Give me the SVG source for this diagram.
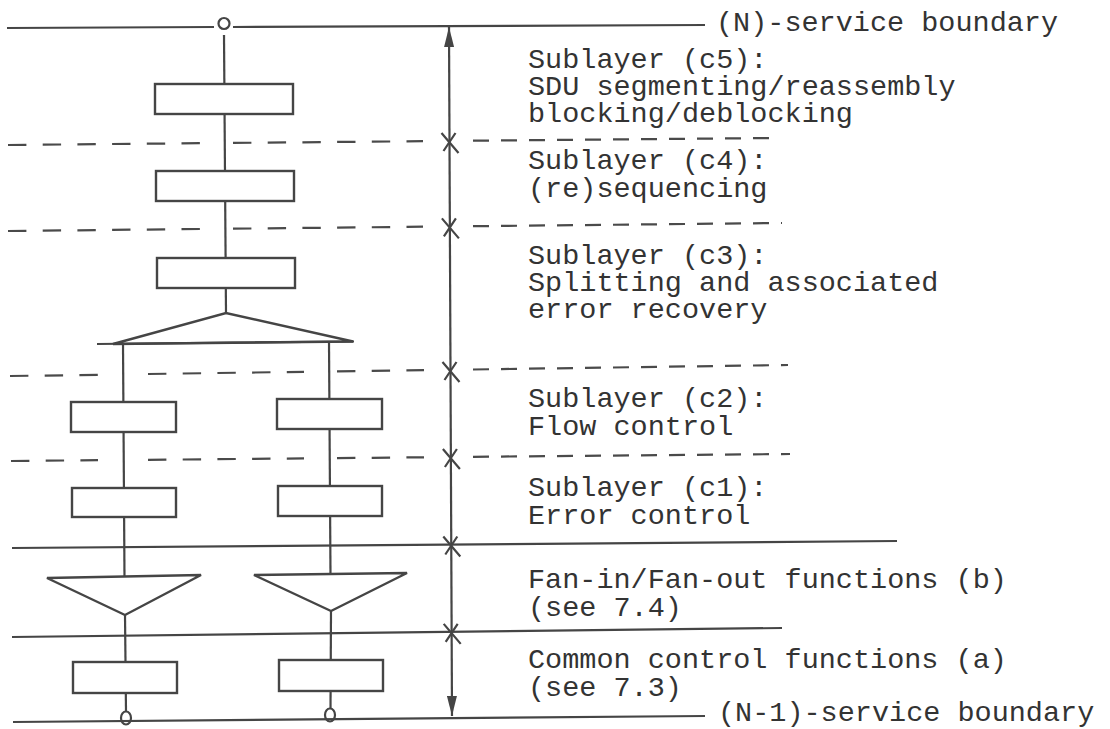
<svg xmlns="http://www.w3.org/2000/svg" width="1110" height="729" viewBox="0 0 1110 729">
  <defs>
    <style>
      .ln { stroke: #454545; stroke-width: 2.2; fill: none; stroke-linecap: butt; }
      .box { stroke: #454545; stroke-width: 2.4; fill: #ffffff; }
      .fan { stroke: #454545; stroke-width: 2.4; fill: #ffffff; stroke-linejoin: miter; }
      .dl { stroke: #4a4a4a; stroke-width: 2.2; fill: none; stroke-dasharray: 18.4 16.3; }
      .dr { stroke: #4a4a4a; stroke-width: 2.2; fill: none; stroke-dasharray: 16 12; }
      .txt { font-family: "Liberation Mono", "DejaVu Sans Mono", monospace; font-size: 28.5px; fill: #333333; }
    </style>
    <!-- tick mark where a sublayer boundary crosses the extent arrow -->
    <path id="tick" d="M-8,-8 L9,12 M6,-8 L-6,10" stroke="#454545" stroke-width="2.2" fill="none"/>
    <marker id="head" viewBox="0 0 20 10" refX="20" refY="5" markerWidth="20" markerHeight="10" markerUnits="userSpaceOnUse" orient="auto-start-reverse">
      <path d="M0,0 L20,5 L0,10 Z" fill="#454545"/>
    </marker>
  </defs>

  <rect width="1110" height="729" fill="#ffffff"/>

  <!-- service boundaries and sublayer separators -->
  <g id="boundaries">
    <line class="ln" x1="7" y1="28" x2="214" y2="27"/>
    <line class="ln" x1="233" y1="27" x2="705" y2="25"/>
    <ellipse cx="224" cy="23.5" rx="5.5" ry="5.5" class="ln"/>

    <!-- c5 / c4 -->
    <line class="dl" x1="8" y1="145" x2="200" y2="143.2"/>
    <line class="dl" x1="233" y1="142.9" x2="423" y2="141.2"/>
    <line class="dr" x1="473" y1="140.7" x2="773" y2="138"/>
    <!-- c4 / c3 -->
    <line class="dl" x1="8" y1="231" x2="200" y2="229"/>
    <line class="dl" x1="233" y1="228.7" x2="423" y2="226.7"/>
    <line class="dr" x1="473" y1="226.2" x2="782" y2="223"/>
    <!-- c3 / c2 -->
    <line class="dl" x1="10" y1="376" x2="98" y2="374.8"/>
    <line class="dl" x1="148" y1="374" x2="304" y2="371.8"/>
    <line class="dl" x1="337" y1="371.4" x2="424" y2="370.1"/>
    <line class="dr" x1="473" y1="369.5" x2="788" y2="365"/>
    <!-- c2 / c1 -->
    <line class="dl" x1="11" y1="461" x2="98" y2="460.2"/>
    <line class="dl" x1="148" y1="459.8" x2="304" y2="458.4"/>
    <line class="dl" x1="337" y1="458.1" x2="424" y2="457.3"/>
    <line class="dr" x1="473" y1="456.8" x2="790" y2="454"/>
    <!-- c / b and b / a -->
    <line class="ln" x1="12" y1="548" x2="897" y2="541"/>
    <line class="ln" x1="12" y1="637" x2="782" y2="628"/>

    <line class="ln" x1="13" y1="722" x2="705" y2="716"/>
    <ellipse cx="126" cy="718" rx="5" ry="6.5" class="ln"/>
    <ellipse cx="330" cy="715" rx="5" ry="6.5" class="ln"/>
  </g>

  <!-- data paths -->
  <g id="connectors">
    <line class="ln" x1="224" y1="35" x2="226" y2="313"/>
    <line class="ln" x1="123" y1="344" x2="124.5" y2="578"/>
    <line class="ln" x1="125" y1="615" x2="126" y2="711.5"/>
    <line class="ln" x1="329" y1="342" x2="330.5" y2="575"/>
    <line class="ln" x1="331" y1="611" x2="330.5" y2="708.5"/>
    <!-- extent of the (N)-layer -->
    <line class="ln" x1="449" y1="27" x2="452" y2="716" marker-start="url(#head)" marker-end="url(#head)"/>
    <use href="#tick" x="449.5" y="141"/>
    <use href="#tick" x="449.9" y="226.4"/>
    <use href="#tick" x="450.5" y="370"/>
    <use href="#tick" x="450.9" y="457"/>
    <use href="#tick" x="451.3" y="544.5"/>
    <use href="#tick" x="451.7" y="631.9"/>
  </g>

  <g id="c5-function"><rect class="box" x="155" y="84" width="138" height="30"/></g>
  <g id="c4-function"><rect class="box" x="156" y="171" width="138" height="30"/></g>
  <g id="c3-function"><rect class="box" x="157" y="258" width="138" height="30"/></g>
  <g id="splitter">
    <path class="fan" d="M113,344 L226,313 L353,341.5 Z"/>
    <line class="ln" x1="97" y1="344" x2="354" y2="341.5"/>
  </g>
  <g id="c2-left"><rect class="box" x="71" y="402" width="105" height="30"/></g>
  <g id="c2-right"><rect class="box" x="277" y="399" width="105" height="30"/></g>
  <g id="c1-left"><rect class="box" x="72" y="488" width="104" height="29"/></g>
  <g id="c1-right"><rect class="box" x="278" y="486" width="104" height="30"/></g>
  <g id="fan-left"><path class="fan" d="M47,578 L201,575 L125,615 Z"/></g>
  <g id="fan-right"><path class="fan" d="M254,575 L407,573 L331,611 Z"/></g>
  <g id="common-left"><rect class="box" x="73" y="662" width="104" height="31"/></g>
  <g id="common-right"><rect class="box" x="279" y="660" width="104" height="31"/></g>

  <g id="labels" class="txt">
    <text x="716" y="31">(N)-service boundary</text>
    <text x="528" y="68">Sublayer (c5):</text>
    <text x="528" y="95">SDU segmenting/reassembly</text>
    <text x="528" y="122">blocking/deblocking</text>
    <text x="528" y="169">Sublayer (c4):</text>
    <text x="528" y="197">(re)sequencing</text>
    <text x="528" y="264">Sublayer (c3):</text>
    <text x="528" y="291">Splitting and associated</text>
    <text x="528" y="318">error recovery</text>
    <text x="528" y="407">Sublayer (c2):</text>
    <text x="528" y="435">Flow control</text>
    <text x="528" y="496">Sublayer (c1):</text>
    <text x="528" y="524">Error control</text>
    <text x="528" y="588">Fan-in/Fan-out functions (b)</text>
    <text x="528" y="616">(see 7.4)</text>
    <text x="528" y="668">Common control functions (a)</text>
    <text x="528" y="696">(see 7.3)</text>
    <text x="718" y="721">(N-1)-service boundary</text>
  </g>
</svg>
